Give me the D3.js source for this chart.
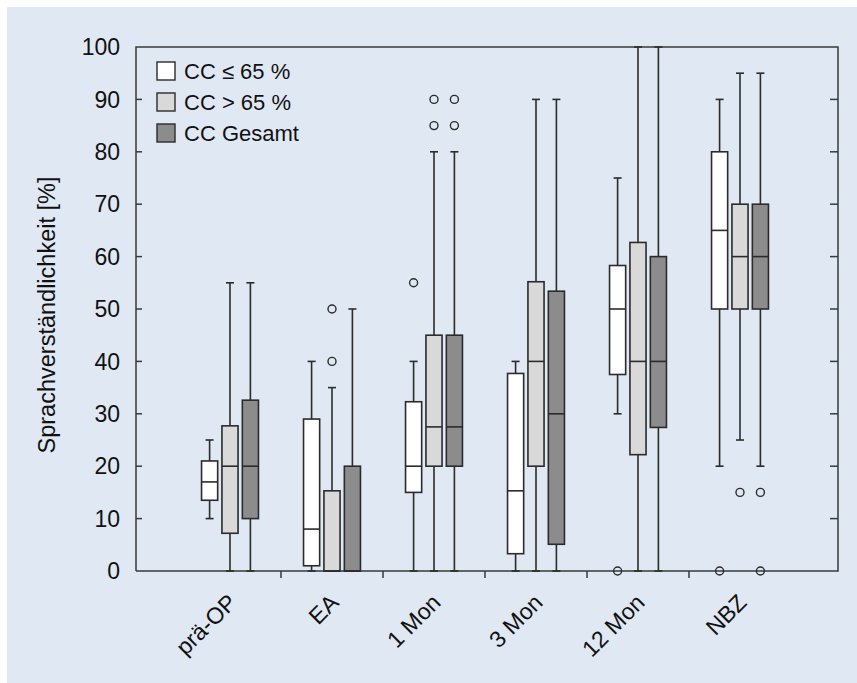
<!DOCTYPE html>
<html>
	<head>
		<meta charset="UTF-8">
		<title>Sprachverständlichkeit Boxplot</title>
		<script type="text/javascript" src="https://cdnjs.cloudflare.com/ajax/libs/d3/7.8.5/d3.min.js"></script>
		<style>
			body { margin: 0; background: #ffffff; }
			text { font-family: "Liberation Sans", Arial, sans-serif; fill: #111; }
		</style>
	</head>
	<body>
		<div id="draw-here"></div>

		<script>

		// Categories and series

		var categories = ["prä-OP", "EA", "1 Mon", "3 Mon", "12 Mon", "NBZ"];
		var seriesNames = ["CC \u2264 65 %", "CC > 65 %", "CC Gesamt"];
		var seriesFill = ["#ffffff", "#d9d9d9", "#8c8c8c"];
		var yTicks = [0, 10, 20, 30, 40, 50, 60, 70, 80, 90, 100];

		// [whisker low, q1, median, q3, whisker high] per category

		var ccLow = [
			[10, 13.5, 17, 21, 25],
			[0, 1, 8, 29, 40],
			[0, 15, 20, 32.3, 40],
			[0, 3.3, 15.3, 37.7, 40],
			[30, 37.5, 50, 58.3, 75],
			[20, 50, 65, 80, 90]
		];
		var ccHigh = [
			[0, 7.2, 20, 27.7, 55],
			[0, 0, 0, 15.3, 35],
			[0, 20, 27.5, 45, 80],
			[0, 20, 40, 55.2, 90],
			[0, 22.2, 40, 62.7, 100],
			[25, 50, 60, 70, 95]
		];
		var ccAll = [
			[0, 10, 20, 32.6, 55],
			[0, 0, 0, 20, 50],
			[0, 20, 27.5, 45, 80],
			[0, 5.1, 30, 53.4, 90],
			[0, 27.4, 40, 60, 100],
			[20, 50, 60, 70, 95]
		];

		// Outliers per category

		var ccLowOut = [[], [], [55], [], [0], [0]];
		var ccHighOut = [[], [40, 50], [85, 90], [], [], [15]];
		var ccAllOut = [[], [], [85, 90], [], [], [15, 0]];

		var allStats = [ccLow, ccHigh, ccAll];
		var allOut = [ccLowOut, ccHighOut, ccAllOut];

		// Size of chart

		var w = 857;
		var h = 683;
		var plotLeft = 136, plotRight = 838, plotTop = 47, plotBottom = 571;
		var stroke = "#2b2b2b";

		var svg = d3.select("#draw-here")
			.append("svg")
			.attr("width", w)
			.attr("height", h);

		// Background panel

		svg.append("rect")
			.attr("x", 7)
			.attr("y", 7)
			.attr("width", w - 7)
			.attr("height", h - 7)
			.attr("fill", "#dfe8f3");

		// Scales

		var x = d3.scaleBand()
			.domain(categories)
			.range([plotLeft + 43, plotRight - 47]);

		var xs = d3.scaleBand()
			.domain(seriesNames)
			.range([-x.bandwidth() * 0.3, x.bandwidth() * 0.3])
			.paddingInner(0.21)
			.paddingOuter(0.105);

		var y = d3.scaleLinear()
			.domain([0, 100])
			.range([plotBottom, plotTop]);

		// Frame lines (top and axes)

		var frame = svg.append("g")
			.attr("stroke", "#3a3a3a")
			.attr("stroke-width", 1.5)
			.attr("fill", "none");

		frame.append("path")
			.attr("d", "M" + plotLeft + "," + plotBottom + "V" + plotTop + "H" + plotRight + "V" + plotBottom + "H" + plotLeft);

		// Y axis ticks (inside, both sides)

		frame.selectAll(".ytl")
			.data(yTicks.slice(1, -1))
			.enter()
			.append("line")
			.attr("x1", plotLeft)
			.attr("x2", plotLeft + 6)
			.attr("y1", function(d) { return y(d); })
			.attr("y2", function(d) { return y(d); });

		frame.selectAll(".ytr")
			.data(yTicks.slice(1, -1))
			.enter()
			.append("line")
			.attr("x1", plotRight - 8)
			.attr("x2", plotRight)
			.attr("y1", function(d) { return y(d); })
			.attr("y2", function(d) { return y(d); });

		svg.selectAll(".ylabel")
			.data(yTicks)
			.enter()
			.append("text")
			.attr("x", plotLeft - 16)
			.attr("y", function(d) { return y(d); })
			.attr("dy", "0.36em")
			.attr("text-anchor", "end")
			.attr("font-size", "23px")
			.text(function(d) { return d; });

		// X axis ticks between the categories

		frame.selectAll(".xt")
			.data(categories.slice(1))
			.enter()
			.append("line")
			.attr("x1", function(d) { return x(d); })
			.attr("x2", function(d) { return x(d); })
			.attr("y1", plotBottom)
			.attr("y2", plotBottom + 7);

		svg.selectAll(".xlabel")
			.data(categories)
			.enter()
			.append("text")
			.attr("text-anchor", "end")
			.attr("font-size", "23px")
			.attr("transform", function(d) {
				return "translate(" + (x(d) + x.bandwidth() / 2 + 8) + "," + (plotBottom + 33) + ") rotate(-45)";
			})
			.text(function(d) { return d; });

		// Y axis title

		svg.append("text")
			.attr("transform", "translate(55," + ((plotTop + plotBottom) / 2 + 6) + ") rotate(-90)")
			.attr("text-anchor", "middle")
			.attr("font-size", "23.5px")
			.text("Sprachverständlichkeit [%]");

		// Boxes

		var marks = svg.append("g")
			.attr("stroke", stroke)
			.attr("stroke-width", 1.6);

		allStats.forEach(function(stats, s) {
			var name = seriesNames[s];
			var bw = xs.bandwidth();

			var g = marks.selectAll(".box-" + s)
				.data(stats)
				.enter()
				.append("g")
				.attr("transform", function(d, i) {
					return "translate(" + (x(categories[i]) + x.bandwidth() / 2 + xs(name)) + ",0)";
				});

			// whisker line
			g.append("line")
				.attr("x1", bw / 2)
				.attr("x2", bw / 2)
				.attr("y1", function(d) { return y(d[0]); })
				.attr("y2", function(d) { return y(d[4]); });

			// whisker caps
			g.append("line")
				.attr("x1", bw / 2 - 4)
				.attr("x2", bw / 2 + 4)
				.attr("y1", function(d) { return y(d[4]); })
				.attr("y2", function(d) { return y(d[4]); });
			g.append("line")
				.attr("x1", bw / 2 - 4)
				.attr("x2", bw / 2 + 4)
				.attr("y1", function(d) { return y(d[0]); })
				.attr("y2", function(d) { return y(d[0]); });

			// box
			g.append("rect")
				.attr("x", 0)
				.attr("width", bw)
				.attr("y", function(d) { return y(d[3]); })
				.attr("height", function(d) { return y(d[1]) - y(d[3]); })
				.attr("fill", seriesFill[s]);

			// median
			g.append("line")
				.attr("x1", 0)
				.attr("x2", bw)
				.attr("y1", function(d) { return y(d[2]); })
				.attr("y2", function(d) { return y(d[2]); });

			// outliers
			g.selectAll("circle")
				.data(function(d, i) { return allOut[s][i]; })
				.enter()
				.append("circle")
				.attr("cx", bw / 2)
				.attr("cy", function(d) { return y(d); })
				.attr("r", 4)
				.attr("fill", "none")
				.attr("stroke-width", 1.4);
		});

		// Legend

		var legend = svg.append("g")
			.attr("transform", "translate(157,62)");

		var items = legend.selectAll("g")
			.data(seriesNames)
			.enter()
			.append("g")
			.attr("transform", function(d, i) { return "translate(0," + (i * 31) + ")"; });

		items.append("rect")
			.attr("width", 18)
			.attr("height", 18)
			.attr("fill", function(d, i) { return seriesFill[i]; })
			.attr("stroke", stroke)
			.attr("stroke-width", 1.4);

		items.append("text")
			.attr("x", 27)
			.attr("y", 9)
			.attr("dy", "0.36em")
			.attr("font-size", "22px")
			.text(function(d) { return d; });

		</script>
	</body>
</html>
